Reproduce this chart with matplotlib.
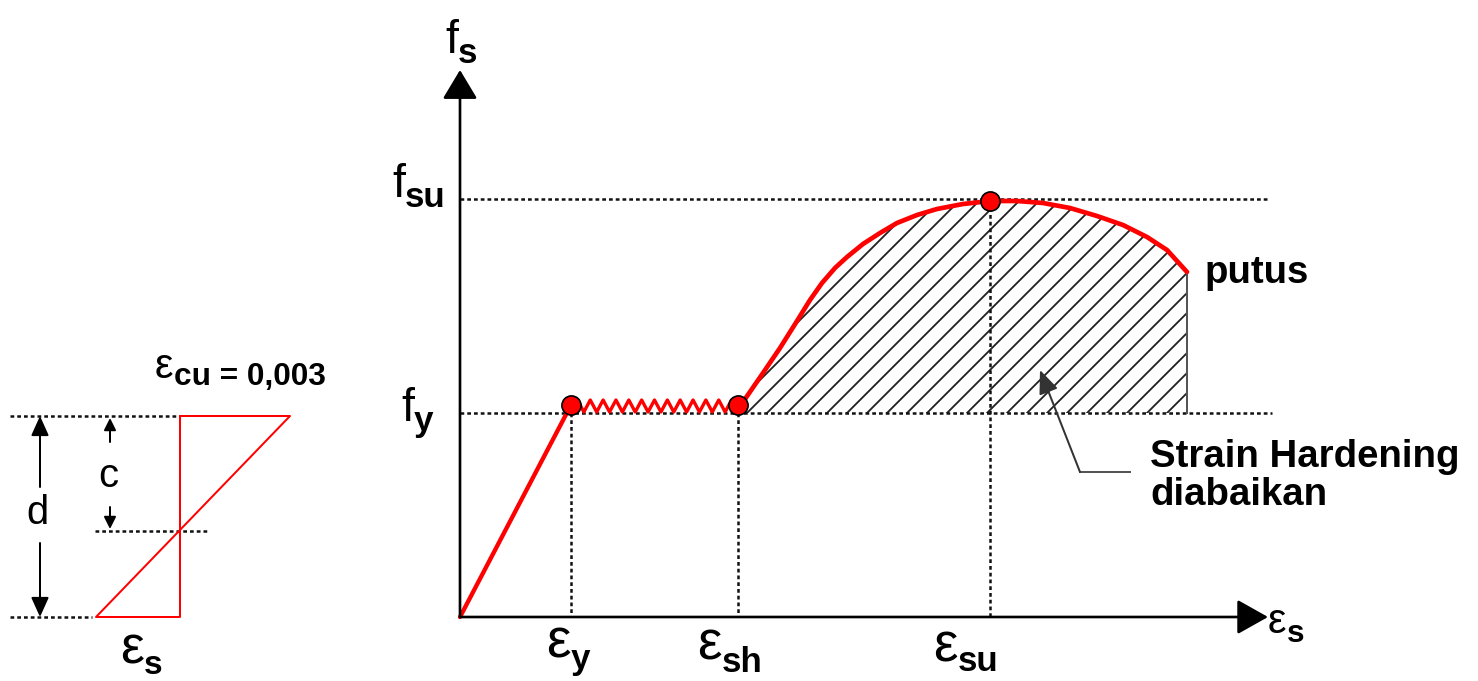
import matplotlib
matplotlib.use("Agg")
import matplotlib.pyplot as plt
import numpy as np

plt.rcParams["font.family"] = ["Liberation Sans", "DejaVu Sans"]
plt.rcParams["hatch.linewidth"] = 1.1

# drawing units = pixels of the 1478x681 canvas, y grows downward
origin_x, origin_y = 460, 617
x_axis_tip, y_axis_tip = 1268, 70

# stress-strain points
eps_y, eps_sh, eps_su, eps_u = 571, 738, 990, 1187
f_y, f_su = 405, 201
f_y_ref = 413          # dotted f_y level, base of the hatched area
n_teeth = 13           # zigzag teeth on the yield plateau

harden_x = [738, 743, 763, 780, 797, 810, 822, 835, 847, 863, 880, 897,
            917, 937, 963, 990, 1017, 1043, 1070, 1097, 1123, 1147, 1167, 1187]
harden_y = [405, 402, 373, 348, 321, 300, 283, 268, 257, 244, 233, 223,
            215, 209, 204, 201, 201, 203, 208, 216, 225, 237, 250, 272]

# strain profile of the section (left sketch)
sec_top, sec_na, sec_bot = 416, 531, 617
sec_zero = 180         # zero-strain line
sec_eps_cu = 290       # concrete strain at top
sec_eps_s = 96         # steel strain at bottom

RED = "#ff0000"
DOT = dict(color="#111111", lw=1.5, ls=(0, (1.5, 1.2)))

fig = plt.figure(figsize=(1478 / 120, 681 / 120), dpi=120)
ax = fig.add_axes([0, 0, 1, 1])
ax.set_xlim(0, 1478)
ax.set_ylim(681, 0)
ax.axis("off")


def arrow(x0, y0, x1, y1, hl, hw, lw=1.5, color="black"):
    ax.annotate("", xy=(x1, y1), xytext=(x0, y0),
                arrowprops=dict(arrowstyle=f"-|>,head_length={hl},head_width={hw}",
                                mutation_scale=10, lw=lw, color=color,
                                shrinkA=0, shrinkB=0))


def sym(x, y, main, sub, size=28, sub_size=21, dy=0):
    t = ax.text(x, y, main, fontsize=size, ha="left", va="baseline")
    ax.annotate(sub, xy=(1, 0), xycoords=t, xytext=(0, dy),
                textcoords="offset points", fontsize=sub_size,
                fontweight="bold", ha="left", va="baseline")


# ---- main stress-strain diagram ----
arrow(origin_x, origin_y, origin_x, y_axis_tip, 1.5, 0.9, lw=1.6)
arrow(origin_x, origin_y, x_axis_tip, origin_y, 1.6, 0.9, lw=1.6)

ax.plot([origin_x, 1270], [f_su - 2, f_su - 2], **DOT)
ax.plot([origin_x, 1272], [f_y_ref, f_y_ref], **DOT)
for xv, yv in [(eps_y, f_y_ref), (eps_sh, f_y_ref), (eps_su, f_su)]:
    ax.plot([xv, xv], [yv, origin_y], **DOT)

ax.fill_between(harden_x, harden_y, f_y_ref, facecolor="none",
                edgecolor="#222222", hatch="//", linewidth=0)
ax.plot([eps_u, eps_u], [harden_y[-1], f_y_ref], color="#555555", lw=1.2)

ax.plot([origin_x, eps_y], [origin_y, f_y], color=RED, lw=2.6,
        solid_capstyle="round")
zx = np.linspace(eps_y, eps_sh, 2 * n_teeth + 1)
zy = np.where(np.arange(zx.size) % 2 == 0, f_y_ref - 1, f_y - 5)
ax.plot(zx, zy, color=RED, lw=2.0)
ax.plot(harden_x, harden_y, color=RED, lw=2.8, solid_joinstyle="round",
        solid_capstyle="round")
ax.plot([eps_y, eps_sh, eps_su], [f_y, f_y, f_su], "o", ms=11.5,
        mfc=RED, mec="black", mew=1.0)

sym(445, 53, "f", "s")
sym(392, 197, "f", "su")
sym(401, 421, "f", "y")
sym(546, 657, "ε", "y", size=33)
sym(697, 660, "ε", "sh", size=33)
sym(933, 662, "ε", "su", size=33, dy=2)
sym(1268, 633, "ε", "s", size=25, sub_size=19)

ax.text(1205, 283, "putus", fontsize=23, fontweight="bold")
ax.text(1150, 467, "Strain Hardening", fontsize=23, fontweight="bold")
ax.text(1150, 505, "diabaikan", fontsize=23, fontweight="bold")
ax.plot([1130, 1080], [472, 472], color="#555555", lw=1.2)
arrow(1080, 472, 1040, 370, 1.2, 0.5, lw=1.2, color="#333333")

# ---- strain profile sketch ----
ax.plot([10, 178], [sec_top, sec_top], **DOT)
ax.plot([10, 92], [sec_bot, sec_bot], **DOT)
ax.plot([95, 207], [sec_na, sec_na], **DOT)
ax.plot([sec_zero, sec_eps_cu, sec_eps_s, sec_zero, sec_zero],
        [sec_top, sec_top, sec_bot, sec_bot, sec_top], color=RED, lw=1.2)

arrow(40, 487, 40, sec_top, 1.0, 0.45, lw=1.2)
arrow(40, 543, 40, sec_bot, 1.0, 0.45, lw=1.2)
arrow(110, 442, 110, sec_top + 2, 0.6, 0.3, lw=1.2)
arrow(110, 507, 110, sec_na - 2, 0.6, 0.3, lw=1.2)
ax.text(38, 513, "d", fontsize=24, ha="center", va="center")
ax.text(108, 476, "c", fontsize=24, ha="center", va="center")

sym(155, 378, "ε", "cu = 0,003", size=25, sub_size=19, dy=1)
sym(120, 663, "ε", "s", size=32, sub_size=20)

fig.savefig("out.png", dpi=120)
